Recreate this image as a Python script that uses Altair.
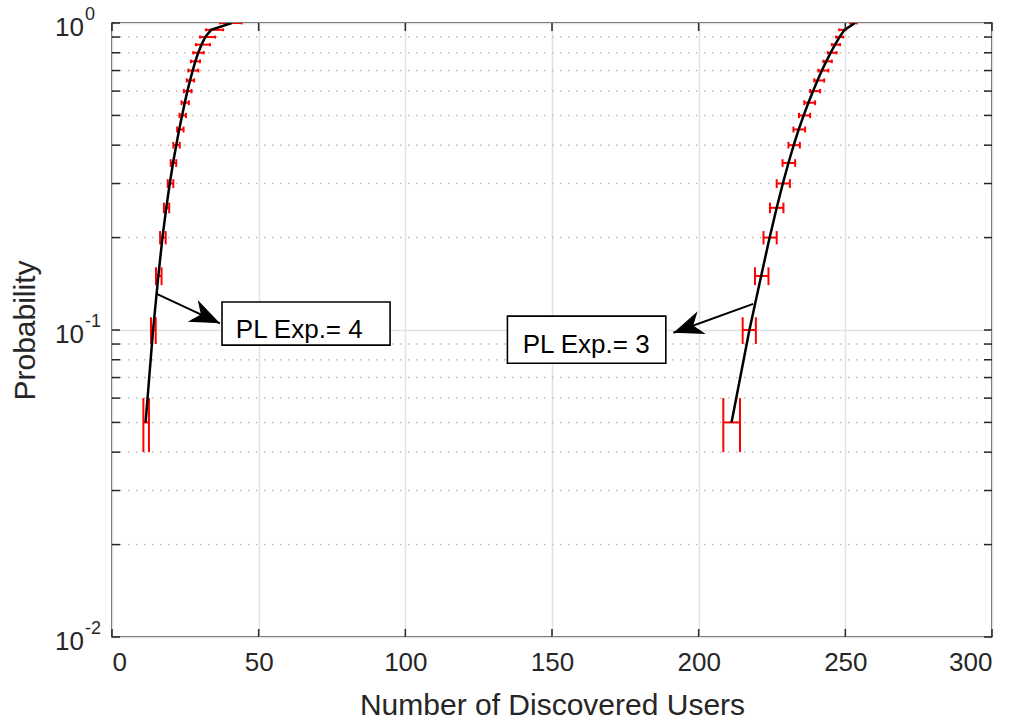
import altair as alt
import pandas as pd

# ---------------- data ----------------
p_levels = [0.05, 0.10, 0.15, 0.20, 0.25, 0.30, 0.35, 0.40, 0.45, 0.50,
            0.55, 0.60, 0.65, 0.70, 0.75, 0.80, 0.85, 0.90, 0.95, 1.00]

# PL exponent 4 (left curve): error bar extents and analytical line
left_lo = [10.7, 13.3, 15.0, 16.4, 17.7, 19.0, 20.0, 20.9, 22.2, 23.0,
           23.7, 24.5, 25.5, 26.0, 26.9, 27.7, 28.6, 30.0, 32.0, 36.8]
left_hi = [12.6, 14.9, 16.9, 18.3, 19.5, 20.9, 21.9, 23.1, 24.4, 25.2,
           26.2, 27.1, 28.0, 29.4, 30.0, 31.3, 33.4, 35.1, 37.9, 44.2]
left_line = [11.45, 14.0, 15.8, 17.2, 18.5, 19.7, 20.8, 21.9, 22.9, 23.9,
             24.8, 25.7, 26.6, 27.5, 28.4, 29.4, 30.5, 31.8, 33.8, 40.8]

# PL exponent 3 (right curve)
right_lo = [208.4, 215.0, 219.2, 222.1, 224.3, 226.6, 228.6, 230.6, 232.3, 234.2,
            236.0, 238.0, 239.4, 240.8, 242.5, 244.0, 245.4, 246.8, 247.9, 251.6]
right_hi = [214.1, 219.5, 223.8, 226.6, 228.9, 231.1, 232.9, 234.5, 236.3, 238.0,
            239.7, 241.4, 242.8, 244.2, 245.4, 247.0, 248.2, 249.3, 250.1, 253.9]
right_line = [211.2, 217.3, 221.3, 224.2, 226.6, 228.7, 230.6, 232.4, 234.1, 235.8,
              237.4, 239.0, 240.5, 242.0, 243.5, 245.0, 246.5, 248.0, 249.7, 253.3]

cap_half = 0.01  # vertical half height of the error-bar caps (data units)

x_ticks = [0, 50, 100, 150, 200, 250, 300]
y_major = [0.01, 0.1, 1.0]
y_minor = [0.02, 0.03, 0.04, 0.05, 0.06, 0.07, 0.08, 0.09,
           0.2, 0.3, 0.4, 0.5, 0.6, 0.7, 0.8, 0.9]
y_label_base = ["10", "10", "10"]
y_label_exp = ["-2", "-1", "0"]

annot_text = ["PL Exp.= 4", "PL Exp.= 3"]
annot_text_x = [42.2, 140.0]
annot_text_p = [0.094, 0.0844]
box_x1 = [37.5, 134.8]
box_x2 = [94.8, 188.8]
box_p1 = [0.0893, 0.0779]
box_p2 = [0.1234, 0.111]
arrow_x_start = [15.24, 218.6]
arrow_p_start = [0.1311, 0.1216]
arrow_x_tip = [36.8, 191.4]
arrow_p_tip = [0.1051, 0.098]
arrow_angle = [114.8, 250.3]

# ---------------- tables ----------------
FONT = "Liberation Sans"
AX = "#262626"
RED = "#ff0000"

err = pd.DataFrame({
    "p": p_levels * 2,
    "lo": left_lo + right_lo,
    "hi": left_hi + right_hi,
    "series": ["PL4"] * len(p_levels) + ["PL3"] * len(p_levels),
})
err["cap_lo"] = err["p"] - cap_half
err["cap_hi"] = err["p"] + cap_half

lines = pd.DataFrame({
    "p": p_levels * 2,
    "x": left_line + right_line,
    "series": ["PL4"] * len(p_levels) + ["PL3"] * len(p_levels),
})

ann = pd.DataFrame({
    "text": annot_text, "tx": annot_text_x, "tp": annot_text_p,
    "bx1": box_x1, "bx2": box_x2, "bp1": box_p1, "bp2": box_p2,
    "ax1": arrow_x_start, "ap1": arrow_p_start,
    "ax2": arrow_x_tip, "ap2": arrow_p_tip, "angle": arrow_angle,
})

xt = pd.DataFrame({"v": x_ticks})
yt = pd.DataFrame({"v": y_major + y_minor})
ymin = pd.DataFrame({"v": y_minor})
ylab = pd.DataFrame({"v": y_major, "base": y_label_base, "exp": y_label_exp})

W, H = 880, 614
xs = alt.Scale(domain=[0, 300], nice=False, zero=False)
ys = alt.Scale(type="log", domain=[0.01, 1], nice=False)

XA = alt.Axis(values=x_ticks, format="d", labelFontSize=26, labelFont=FONT,
              labelColor=AX, labelPadding=12, ticks=False, domain=False,
              grid=True, gridColor="#e1e1e1", gridWidth=1.5,
              title="Number of Discovered Users", titleFont=FONT,
              titleFontSize=30, titleFontWeight="normal", titleColor=AX,
              titlePadding=15)
YA = alt.Axis(values=y_major, labels=False, ticks=False, domain=False,
              grid=True, gridColor="#e1e1e1", gridWidth=1.5,
              title="Probability", titleFont=FONT, titleFontSize=30,
              titleFontWeight="normal", titleColor=AX, titlePadding=72)


def X(f):
    return alt.X(f, scale=xs, axis=XA)


def Y(f):
    return alt.Y(f, scale=ys, axis=YA)


# ---------------- layers ----------------
minor_grid = alt.Chart(ymin).mark_rule(
    color="#bdbdbd", strokeWidth=1.5, strokeDash=[1.5, 6.5]
).encode(y=Y("v:Q"), x=alt.value(0), x2=alt.value(W))

curve = alt.Chart(lines).mark_line(color="black", strokeWidth=2.5, clip=True).encode(
    x=X("x:Q"), y=Y("p:Q"), detail="series:N", order="p:Q",
)

bars = alt.Chart(err).mark_rule(color=RED, strokeWidth=2, clip=True).encode(
    x=X("lo:Q"), x2="hi:Q", y=Y("p:Q"),
)
caps_lo = alt.Chart(err).mark_rule(color=RED, strokeWidth=2, clip=True).encode(
    x=X("lo:Q"), y=Y("cap_lo:Q"), y2="cap_hi:Q",
)
caps_hi = alt.Chart(err).mark_rule(color=RED, strokeWidth=2, clip=True).encode(
    x=X("hi:Q"), y=Y("cap_lo:Q"), y2="cap_hi:Q",
)

boxes = alt.Chart(ann).mark_rect(fill="white", stroke="black", strokeWidth=1.6).encode(
    x=X("bx1:Q"), x2="bx2:Q", y=Y("bp1:Q"), y2="bp2:Q",
)
texts = alt.Chart(ann).mark_text(
    align="left", baseline="alphabetic", font=FONT, fontSize=26, color="black"
).encode(x=X("tx:Q"), y=Y("tp:Q"), text="text:N")
shafts = alt.Chart(ann).mark_rule(color="black", strokeWidth=2).encode(
    x=X("ax1:Q"), x2="ax2:Q", y=Y("ap1:Q"), y2="ap2:Q",
)
heads = alt.Chart(ann).mark_point(
    shape="M0,0 L-0.4,1 L0,0.7 L0.4,1 Z", filled=True, size=3600,
    color="black", opacity=1, strokeWidth=0
).encode(
    x=X("ax2:Q"), y=Y("ap2:Q"),
    angle=alt.Angle("angle:Q", scale=None),
)

tick_style = dict(color=AX, strokeWidth=1.5)
xt_bottom = alt.Chart(xt).mark_rule(**tick_style).encode(
    x=X("v:Q"), y=alt.value(H), y2=alt.value(H - 8))
xt_top = alt.Chart(xt).mark_rule(**tick_style).encode(
    x=X("v:Q"), y=alt.value(0), y2=alt.value(8))
yt_left = alt.Chart(yt).mark_rule(**tick_style).encode(
    y=Y("v:Q"), x=alt.value(0), x2=alt.value(8))
yt_right = alt.Chart(yt).mark_rule(**tick_style).encode(
    y=Y("v:Q"), x=alt.value(W), x2=alt.value(W - 8))

ylab_base = alt.Chart(ylab).mark_text(
    align="right", baseline="middle", font=FONT, fontSize=26, color=AX, dy=5
).encode(y=Y("v:Q"), x=alt.value(-28), text="base:N")
ylab_exp = alt.Chart(ylab).mark_text(
    align="left", baseline="middle", font=FONT, fontSize=18, color=AX, dy=-8
).encode(y=Y("v:Q"), x=alt.value(-27), text="exp:N")

chart = alt.layer(
    minor_grid, bars, caps_lo, caps_hi, curve, shafts, heads, boxes, texts,
    xt_bottom, xt_top, yt_left, yt_right, ylab_base, ylab_exp,
).properties(
    width=W, height=H,
    autosize=alt.AutoSizeParams(type="none"),
    padding={"left": 112, "top": 23, "right": 31, "bottom": 83},
    background="white",
).configure_view(stroke=AX, strokeWidth=1.5)

chart.save("out.html", embed_options={"renderer": "svg", "actions": False})
